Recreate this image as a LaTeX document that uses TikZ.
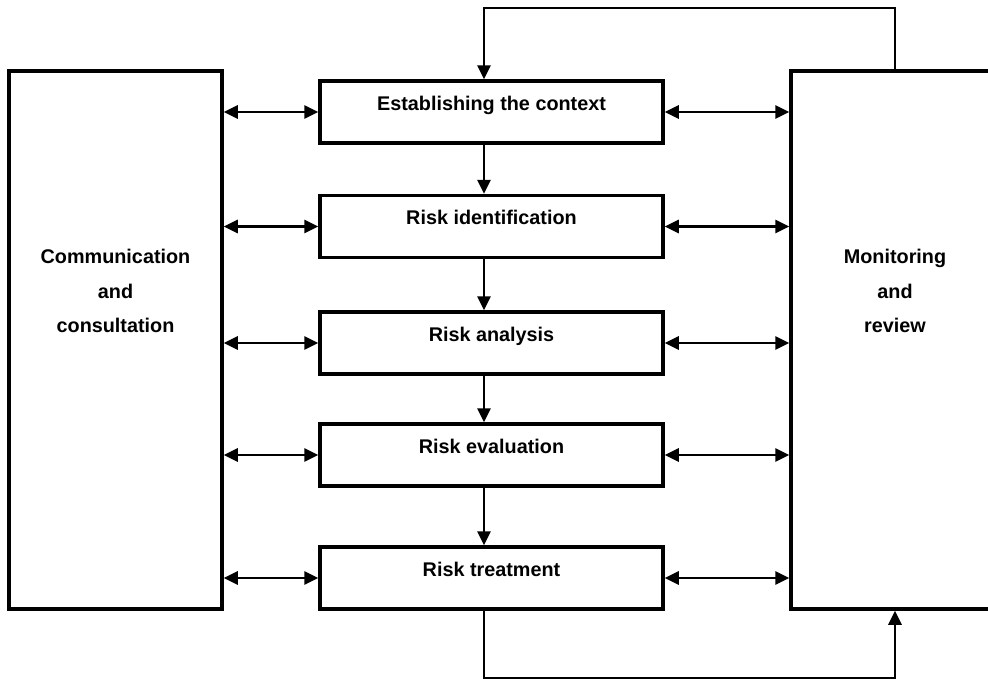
\documentclass[tikz,border=0pt]{standalone}
\usepackage{fontspec}
\setmainfont{Liberation Sans}
\usetikzlibrary{arrows.meta}

\begin{document}
\begin{tikzpicture}[x=1pt,y=-1pt,line width=2.7pt,
  stage/.style={draw,line width=3.5pt,minimum width=343,minimum height=62,inner sep=0pt,
    text height=14pt,text depth=18pt,font=\fontsize{19.8}{23}\selectfont\bfseries},
  side/.style={draw,line width=3.5pt,minimum width=213,minimum height=538,inner sep=0pt},
  sidetext/.style={align=center,inner sep=0pt,font=\fontsize{19.8}{34.5}\selectfont\bfseries},
  flow/.style={-{Triangle[length=14,width=13]}},
  both/.style={{Triangle[length=14,width=13]}-{Triangle[length=14,width=13]}}]
\path[use as bounding box] (0,0) rectangle (988,681);
\node[side] (comm) at (115.5,340) {};
\node[side] (mon) at (897.5,340) {};
\node[sidetext] (commtext) at (115.5,291) {Communication\\and\\consultation};
\node[sidetext] (montext) at (895,291) {Monitoring\\and\\review};
\node[stage] (ctx) at (491.5,112) {Establishing the context};
\node[stage] (idf) at (491.5,226.5) {Risk identification};
\node[stage] (ana) at (491.5,343) {Risk analysis};
\node[stage] (eva) at (491.5,455) {Risk evaluation};
\node[stage] (trt) at (491.5,578) {Risk treatment};
\coordinate (col) at (484,0);
\coordinate (top) at (895,8);
\coordinate (bot) at (895,678);
% exchange with both side boxes
\foreach \s in {ctx,idf,ana,eva,trt} {
  \draw[both] (comm.east |- \s) -- (\s.west);
  \draw[both] (\s.east) -- (mon.west |- \s);
}
% main flow
\draw[flow] (ctx.south -| col) -- (idf.north -| col);
\draw[flow] (idf.south -| col) -- (ana.north -| col);
\draw[flow] (ana.south -| col) -- (eva.north -| col);
\draw[flow] (eva.south -| col) -- (trt.north -| col);
% loops
\draw[flow] (mon.north -| top) -- (top) -| (ctx.north -| col);
\draw[flow] (trt.south -| col) |- (bot) -- (mon.south -| bot);
\end{tikzpicture}
\end{document}
